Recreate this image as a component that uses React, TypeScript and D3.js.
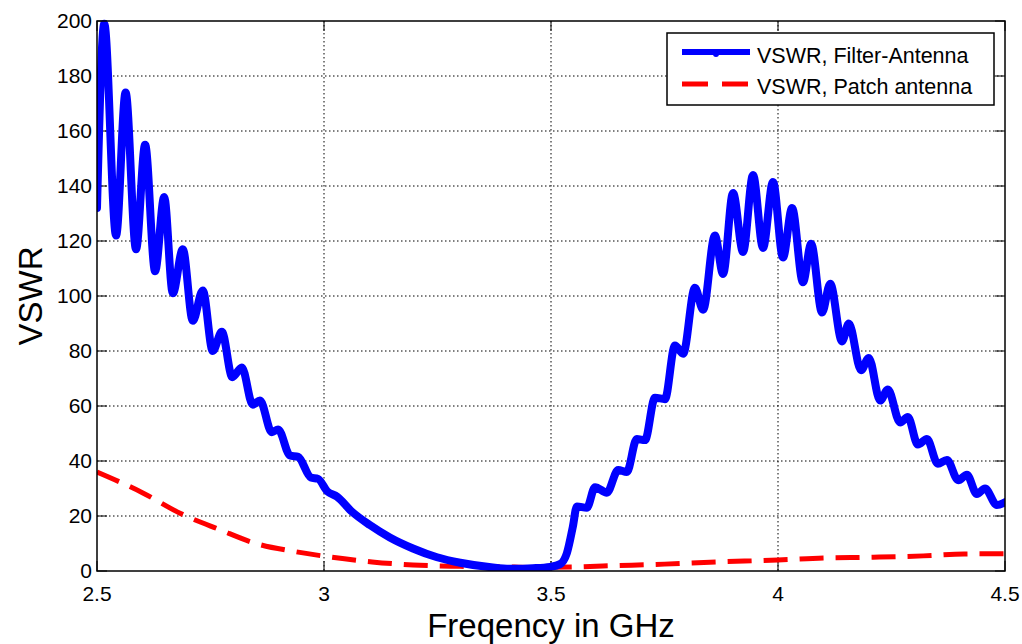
import React from "react";
import * as d3 from "d3";

const filterFreq = [
  2.500, 2.516, 2.542, 2.563, 2.586, 2.606, 2.628, 2.648, 2.667, 2.689,
  2.711, 2.733, 2.755, 2.775, 2.798, 2.819, 2.843, 2.859, 2.885, 2.899,
  2.925, 2.943, 2.971, 2.987, 3.007, 3.029, 3.062, 3.101, 3.145, 3.196,
  3.249, 3.300, 3.372, 3.416, 3.460, 3.498, 3.520, 3.535, 3.548, 3.557,
  3.579, 3.597, 3.623, 3.648, 3.667, 3.689, 3.707, 3.729, 3.751, 3.773,
  3.791, 3.817, 3.835, 3.861, 3.879, 3.901, 3.923, 3.945, 3.967, 3.989,
  4.011, 4.031, 4.055, 4.073, 4.097, 4.115, 4.141, 4.156, 4.183, 4.200,
  4.225, 4.242, 4.269, 4.286, 4.308, 4.328, 4.352, 4.372, 4.397, 4.416,
  4.438, 4.456, 4.482, 4.500,
];
const filterVSWR = [
  132, 199, 122, 174, 117, 155, 109, 136, 101, 117,
  91, 102, 80, 87, 70.5, 74, 60.5, 62, 50.5, 51.5,
  42, 41.5, 34, 33.5, 29, 27, 21.5, 16.7, 12.2, 8.2,
  5, 3, 1.3, 0.8, 1, 1.5, 2.5, 6.5, 16, 23.5,
  23, 30.5, 28.5, 36.7, 36, 48, 47.6, 63, 62.5, 82,
  79, 103, 95, 122, 108, 137.5, 116, 144, 117.5, 141.5,
  114, 132, 105, 119, 94, 104.5, 83.5, 90, 73, 77.5,
  62, 66, 54, 56, 46, 48, 39, 40.4, 33, 35,
  28, 30, 24, 25,
];

const patchFreq = [
  2.500, 2.601, 2.683, 2.771, 2.850, 2.938, 3.018, 3.106, 3.196, 3.300,
  3.400, 3.450, 3.550, 3.650, 3.750, 3.850, 4.000, 4.100, 4.210, 4.320,
  4.410, 4.500,
];
const patchVSWR = [
  36, 28.4, 21, 15, 10, 7, 5, 3.3, 2.2, 1.7,
  1.5, 1.3, 1.5, 2, 2.5, 3.2, 4, 4.7, 5, 5.5,
  6.2, 6.3,
];

const xTicks = [2.5, 3, 3.5, 4, 4.5];
const xTickLabels = ["2.5", "3", "3.5", "4", "4.5"];
const yTicks = [0, 20, 40, 60, 80, 100, 120, 140, 160, 180, 200];

const legendLabels = ["VSWR, Filter-Antenna", "VSWR, Patch antenna"];
const xLabel = "Freqency in GHz";
const yLabel = "VSWR";

export default function App() {
  const W = 1022, H = 644;
  const left = 97, right = 1005, top = 21, bottom = 571;
  const x = d3.scaleLinear().domain([2.5, 4.5]).range([left, right]);
  const y = d3.scaleLinear().domain([0, 200]).range([bottom, top]);

  const blue = filterFreq.map((f, i) => [f, filterVSWR[i]] as [number, number]);
  const red = patchFreq.map((f, i) => [f, patchVSWR[i]] as [number, number]);
  const line = d3
    .line<[number, number]>()
    .x((d) => x(d[0]))
    .y((d) => y(d[1]))
    .curve(d3.curveMonotoneX);

  const font = "Arial, 'Liberation Sans', sans-serif";
  const tickLen = 10;

  return (
    <div style={{ position: "fixed", left: 0, top: 0, width: W, height: H, background: "#fff" }}>
      <svg width={W} height={H} style={{ display: "block" }} fontFamily={font}>
        <rect x={0} y={0} width={W} height={H} fill="#fff" />
        <defs>
          <clipPath id="plotClip">
            <rect x={left} y={top - 4} width={right - left} height={bottom - top + 4} />
          </clipPath>
        </defs>
        {/* grid */}
        {xTicks.slice(1, -1).map((t) => (
          <line key={"gx" + t} x1={x(t)} x2={x(t)} y1={top} y2={bottom}
            stroke="#000" strokeWidth={1} strokeDasharray="1.5,2.5" />
        ))}
        {yTicks.slice(1, -1).map((t) => (
          <line key={"gy" + t} x1={left} x2={right} y1={y(t)} y2={y(t)}
            stroke="#000" strokeWidth={1} strokeDasharray="1.5,2.5" />
        ))}
        {/* ticks */}
        {xTicks.map((t) => (
          <g key={"tx" + t}>
            <line x1={x(t)} x2={x(t)} y1={bottom} y2={bottom - tickLen} stroke="#000" strokeWidth={1} />
            <line x1={x(t)} x2={x(t)} y1={top} y2={top + tickLen} stroke="#000" strokeWidth={1} />
          </g>
        ))}
        {yTicks.map((t) => (
          <g key={"ty" + t}>
            <line x1={left} x2={left + tickLen} y1={y(t)} y2={y(t)} stroke="#000" strokeWidth={1} />
            <line x1={right} x2={right - tickLen} y1={y(t)} y2={y(t)} stroke="#000" strokeWidth={1} />
          </g>
        ))}
        {/* data */}
        <g clipPath="url(#plotClip)">
          <path d={line(red) || ""} fill="none" stroke="#ff0000" strokeWidth={5}
            strokeDasharray="24,12" />
          <path d={line(blue) || ""} fill="none" stroke="#0000ff" strokeWidth={8}
            strokeLinejoin="round" strokeLinecap="round" />
        </g>
        {/* frame */}
        <rect x={left} y={top} width={right - left} height={bottom - top}
          fill="none" stroke="#000" strokeWidth={1.5} />
        {/* tick labels */}
        {xTicks.map((t, i) => (
          <text key={"lx" + t} x={x(t)} y={601} textAnchor="middle" fontSize={21} fill="#000">
            {xTickLabels[i]}
          </text>
        ))}
        {yTicks.map((t) => (
          <text key={"ly" + t} x={left - 5} y={y(t) + 6.5} textAnchor="end" fontSize={21} fill="#000">
            {t}
          </text>
        ))}
        {/* axis labels */}
        <text x={(left + right) / 2} y={637} textAnchor="middle" fontSize={33} fill="#000">
          {xLabel}
        </text>
        <text transform={`translate(42, ${(top + bottom) / 2}) rotate(-90)`} textAnchor="middle"
          fontSize={33} fill="#000">
          {yLabel}
        </text>
        {/* legend */}
        <rect x={667} y={33} width={327} height={72} fill="#fff" stroke="#000" strokeWidth={1.5} />
        <line x1={682} x2={750} y1={52} y2={52} stroke="#0000ff" strokeWidth={6} />
        <circle cx={716} cy={54} r={3} fill="#0000ff" />
        <line x1={682} x2={750} y1={84} y2={84} stroke="#ff0000" strokeWidth={5} strokeDasharray="26,14" />
        <text x={757} y={63} fontSize={21.5} fill="#000">{legendLabels[0]}</text>
        <text x={757} y={94} fontSize={21.5} fill="#000">{legendLabels[1]}</text>
      </svg>
    </div>
  );
}
